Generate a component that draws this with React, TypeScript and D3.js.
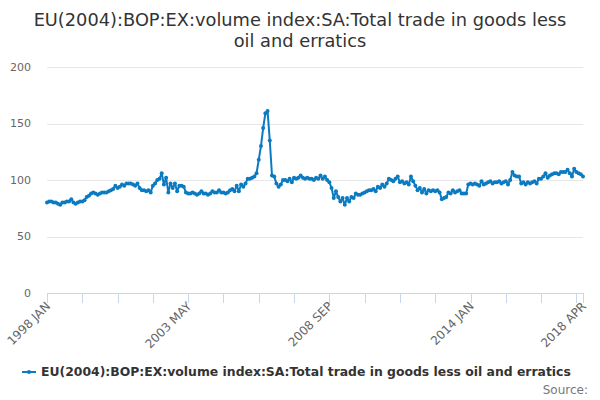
import { useEffect, useRef } from 'react';
import * as d3 from 'd3';

// monthly values, 1998 JAN .. 2018 APR
const startYear = 1998;
const monthNames = ['JAN', 'FEB', 'MAR', 'APR', 'MAY', 'JUN', 'JUL', 'AUG', 'SEP', 'OCT', 'NOV', 'DEC'];

const values: number[] = [
  // 1998
  80, 81, 81, 80, 80, 79, 78, 80, 80, 81, 81, 83,
  // 1999
  80, 79, 80, 81, 81, 82, 85, 86, 88, 89, 88, 87,
  // 2000
  88, 89, 89, 89, 90, 91, 92, 95, 93, 94, 96, 95,
  // 2001
  97, 97, 97, 96, 95, 97, 93, 91, 91, 90, 91, 89,
  // 2002
  95, 97, 100, 101, 106, 96, 102, 89, 97, 93, 97, 90,
  // 2003
  95, 95, 94, 89, 88, 88, 89, 88, 87, 88, 90, 88,
  // 2004
  88, 87, 88, 90, 89, 89, 91, 89, 89, 88, 89, 91,
  // 2005
  92, 90, 95, 90, 96, 94, 97, 101, 101, 102, 103, 106,
  // 2006
  118, 130, 146, 159, 161, 135, 104, 103, 97, 94, 96, 100,
  // 2007
  100, 99, 101, 98, 102, 101, 102, 104, 102, 101, 102, 101,
  // 2008
  101, 100, 102, 101, 104, 101, 103, 100, 98, 93, 84, 90,
  // 2009
  85, 81, 84, 78, 84, 81, 85, 84, 88, 87, 87, 88,
  // 2010
  89, 90, 91, 91, 92, 90, 94, 93, 96, 94, 97, 101,
  // 2011
  100, 99, 101, 103, 98, 99, 97, 98, 96, 103, 99, 95,
  // 2012
  91, 93, 89, 92, 88, 91, 90, 91, 90, 91, 89, 83,
  // 2013
  84, 85, 89, 88, 91, 89, 90, 91, 88, 88, 88, 96,
  // 2014
  97, 96, 97, 96, 95, 99, 96, 97, 98, 99, 97, 98,
  // 2015
  98, 99, 97, 98, 99, 96, 100, 107, 104, 103, 103, 97,
  // 2016
  98, 96, 98, 97, 98, 99, 97, 101, 101, 103, 106, 102,
  // 2017
  104, 105, 106, 106, 105, 107, 107, 107, 109, 106, 103, 110,
  // 2018
  107, 106, 105, 103,
];

const yTicks = [0, 50, 100, 150, 200];
const tickStep = 16;      // months between axis ticks
const labelEvery = 4;     // label every 4th tick
const titleLines = [
  'EU(2004):BOP:EX:volume index:SA:Total trade in goods less',
  'oil and erratics',
];
const seriesName = 'EU(2004):BOP:EX:volume index:SA:Total trade in goods less oil and erratics';

const monthLabel = (i: number) => `${startYear + Math.floor(i / 12)} ${monthNames[i % 12]}`;

export default function App() {
  const svgRef = useRef<SVGSVGElement>(null);
  const width = 600;
  const height = 400;

  useEffect(() => {
    if (!svgRef.current) return;
    const svg = d3.select(svgRef.current);
    svg.selectAll('*').remove();

    const font = '"DejaVu Sans", Verdana, sans-serif';
    const color = '#0b7bc1';
    const margin = { top: 67, right: 17, bottom: 107, left: 47 };
    const x0 = margin.left;
    const x1 = width - margin.right;
    const y0 = height - margin.bottom;

    const last = values.length - 1;
    const x = d3.scaleLinear().domain([0, last]).range([x0, x1]);
    const y = d3.scaleLinear().domain([0, 200]).range([y0, margin.top]);

    // title
    svg.append('g')
      .selectAll('text')
      .data(titleLines)
      .enter()
      .append('text')
      .attr('x', width / 2)
      .attr('y', (_, i) => 26 + i * 21)
      .attr('text-anchor', 'middle')
      .attr('font-family', font)
      .attr('font-size', 17.8)
      .attr('fill', '#333333')
      .text(d => d);

    // gridlines + y labels
    const grid = svg.append('g');
    grid.selectAll('line')
      .data(yTicks.filter(t => t > 0))
      .enter()
      .append('line')
      .attr('x1', x0)
      .attr('x2', x1)
      .attr('y1', d => Math.round(y(d)) + 0.5)
      .attr('y2', d => Math.round(y(d)) + 0.5)
      .attr('stroke', '#e6e6e6')
      .attr('stroke-width', 1);

    grid.selectAll('text')
      .data(yTicks)
      .enter()
      .append('text')
      .attr('x', 31)
      .attr('y', d => y(d))
      .attr('dy', '0.32em')
      .attr('text-anchor', 'end')
      .attr('font-family', font)
      .attr('font-size', 11)
      .attr('fill', '#666666')
      .text(d => d);

    // x axis
    const tickIdx = d3.range(0, last, tickStep).concat([last]);
    const axis = svg.append('g');
    axis.append('line')
      .attr('x1', x0)
      .attr('x2', x1)
      .attr('y1', Math.round(y0) + 0.5)
      .attr('y2', Math.round(y0) + 0.5)
      .attr('stroke', '#ccd6eb');
    axis.selectAll('line.tick')
      .data(tickIdx)
      .enter()
      .append('line')
      .attr('class', 'tick')
      .attr('x1', d => Math.round(x(d)) + 0.5)
      .attr('x2', d => Math.round(x(d)) + 0.5)
      .attr('y1', y0)
      .attr('y2', y0 + 10)
      .attr('stroke', '#ccd6eb');

    const labelIdx = tickIdx.filter((d, i) => i % labelEvery === 0 || d === last);
    axis.selectAll('text')
      .data(labelIdx)
      .enter()
      .append('text')
      .attr('transform', d => `translate(${x(d) + 4},${y0 + 14}) rotate(-45)`)
      .attr('text-anchor', 'end')
      .attr('font-family', font)
      .attr('font-size', 12)
      .attr('fill', '#666666')
      .text(d => monthLabel(d));

    // series
    const line = d3.line<number>()
      .x((_, i) => x(i))
      .y(d => y(d));

    svg.append('path')
      .datum(values)
      .attr('d', line)
      .attr('fill', 'none')
      .attr('stroke', color)
      .attr('stroke-width', 2)
      .attr('stroke-linejoin', 'round');

    svg.append('g')
      .selectAll('circle')
      .data(values)
      .enter()
      .append('circle')
      .attr('cx', (_, i) => x(i))
      .attr('cy', d => y(d))
      .attr('r', 2)
      .attr('fill', color);

    // legend
    const legend = svg.append('g').attr('transform', 'translate(22,372)');
    legend.append('line')
      .attr('x1', 0)
      .attr('x2', 14)
      .attr('y1', 0)
      .attr('y2', 0)
      .attr('stroke', color)
      .attr('stroke-width', 2);
    legend.append('circle')
      .attr('cx', 7)
      .attr('cy', 0)
      .attr('r', 2)
      .attr('fill', color);
    legend.append('text')
      .attr('x', 19)
      .attr('y', 0)
      .attr('dy', '0.35em')
      .attr('font-family', font)
      .attr('font-size', 12.4)
      .attr('font-weight', 'bold')
      .attr('fill', '#333333')
      .text(seriesName);

    svg.append('text')
      .attr('x', 588)
      .attr('y', 394)
      .attr('text-anchor', 'end')
      .attr('font-family', font)
      .attr('font-size', 12)
      .attr('fill', '#777777')
      .text('Source:');
  }, []);

  return (
    <svg
      ref={svgRef}
      width={width}
      height={height}
      style={{ position: 'absolute', left: 0, top: 0, background: '#ffffff' }}
    />
  );
}
